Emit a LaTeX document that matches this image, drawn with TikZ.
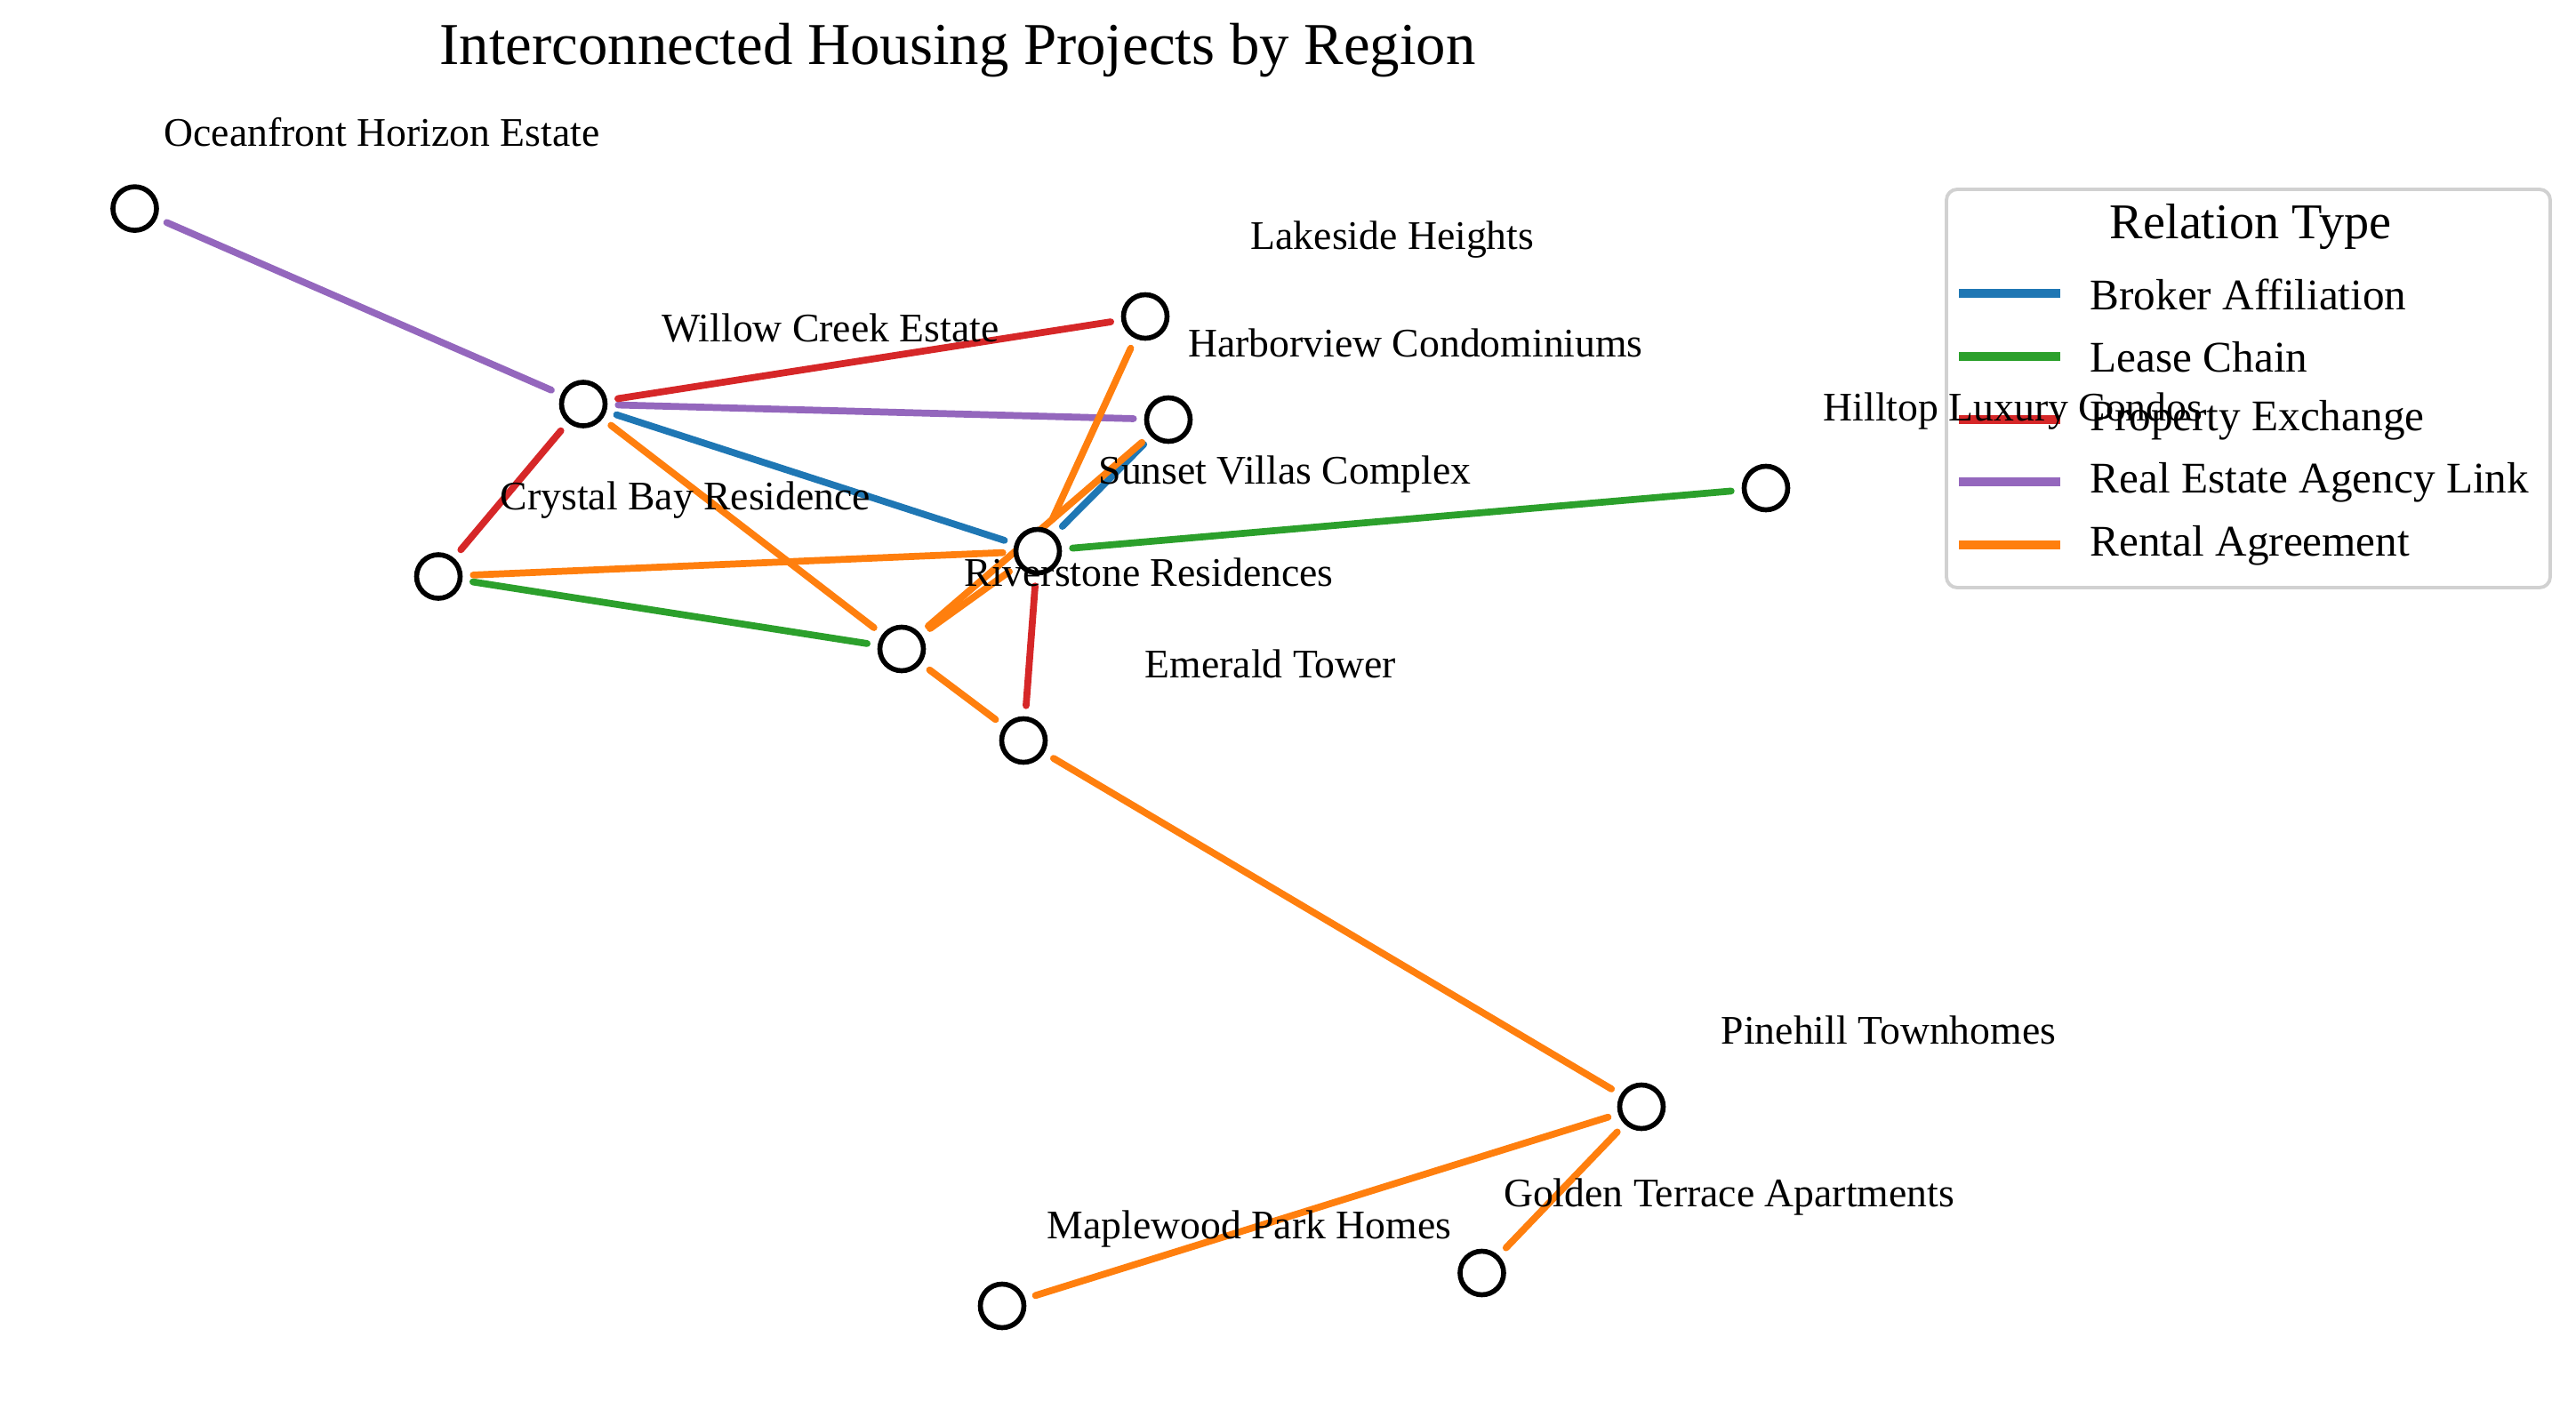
\documentclass[tikz,border=0pt]{standalone}
\usepackage{fontspec}
\setmainfont{Liberation Serif}
\usetikzlibrary{backgrounds}

\definecolor{tabblue}{HTML}{1F77B4}
\definecolor{taborange}{HTML}{FF7F0E}
\definecolor{tabgreen}{HTML}{2CA02C}
\definecolor{tabred}{HTML}{D62728}
\definecolor{tabpurple}{HTML}{9467BD}

\begin{document}
\begin{tikzpicture}
\tikzstyle{every node}+=[inner sep=0pt]
\tikzstyle{house}=[circle, draw=black, fill=white, line width=1.6pt, minimum size=0.49cm]
\tikzstyle{tag}=[font=\fontsize{13}{15}\selectfont]
\tikzstyle{link}=[line width=2.2pt, line cap=round, shorten <=0.12cm, shorten >=0.12cm]
\tikzstyle{broker}=[link, tabblue]
\tikzstyle{lease}=[link, tabgreen]
\tikzstyle{exchange}=[link, tabred]
\tikzstyle{agency}=[link, tabpurple]
\tikzstyle{rental}=[link, taborange]
\tikzstyle{swatch}=[line width=3pt]
\tikzstyle{keytext}=[anchor=west, font=\fontsize{14}{16}\selectfont]
\useasboundingbox (0,0) rectangle (28.97,-15.76);
\node [font=\fontsize{19}{22}\selectfont] (title) at (10.77,-0.57) {Interconnected Housing Projects by Region};
\node [house] (ocean) at (1.515,-2.346) {};
\node [house] (lake) at (12.88,-3.56) {};
\node [house] (harbor) at (13.14,-4.72) {};
\node [house] (willow) at (6.56,-4.545) {};
\node [house] (sunset) at (11.67,-6.20) {};
\node [house] (crystal) at (4.93,-6.485) {};
\node [house] (river) at (10.14,-7.30) {};
\node [house] (emerald) at (11.51,-8.33) {};
\node [house] (hill) at (19.86,-5.49) {};
\node [house] (pine) at (18.46,-12.45) {};
\node [house] (golden) at (16.665,-14.32) {};
\node [house] (maple) at (11.27,-14.69) {};
\begin{scope}[on background layer]
\draw [agency] (ocean) -- (willow);
\draw [agency] (willow) -- (harbor);
\draw [exchange] (willow) -- (lake);
\draw [exchange] (willow) -- (crystal);
\draw [exchange] (sunset) -- (emerald);
\draw [broker] (willow) -- (sunset);
\draw [broker] (harbor) -- (sunset);
\draw [lease] (crystal) -- (river);
\draw [lease] (sunset) -- (hill);
\draw [rental] (willow) -- (river);
\draw [rental] (crystal) -- (sunset);
\draw [rental] (lake) -- (sunset);
\draw [rental] (river) -- (harbor);
\draw [rental] (river) -- (sunset);
\draw [rental] (river) -- (emerald);
\draw [rental] (emerald) -- (pine);
\draw [rental] (pine) -- (maple);
\draw [rental] (pine) -- (golden);
\end{scope}
\draw [rounded corners=0.12cm, draw=black!18, line width=1.1pt, fill=white] (21.89,-2.13) rectangle (28.68,-6.61);
\node [font=\fontsize{16}{18}\selectfont] (key-title) at (25.31,-2.55) {Relation Type};
\draw [swatch, tabblue] (22.03,-3.30) -- (23.17,-3.30);
\node [keytext] (key-broker) at (23.50,-3.31) {Broker Affiliation};
\draw [swatch, tabgreen] (22.03,-4.01) -- (23.17,-4.01);
\node [keytext] (key-lease) at (23.50,-4.02) {Lease Chain};
\draw [swatch, tabred] (22.03,-4.72) -- (23.17,-4.72);
\node [keytext] (key-exchange) at (23.50,-4.73) {Property Exchange};
\draw [swatch, tabpurple] (22.03,-5.42) -- (23.17,-5.42);
\node [keytext] (key-agency) at (23.50,-5.43) {Real Estate Agency Link};
\draw [swatch, taborange] (22.03,-6.13) -- (23.17,-6.13);
\node [keytext] (key-rental) at (23.50,-6.14) {Rental Agreement};
\node [tag] (ocean-t) at ([shift={(2.78,0.86)}]ocean.center) {Oceanfront Horizon Estate};
\node [tag] (lake-t) at ([shift={(2.78,0.86)}]lake.center) {Lakeside Heights};
\node [tag] (harbor-t) at ([shift={(2.78,0.86)}]harbor.center) {Harborview Condominiums};
\node [tag] (willow-t) at ([shift={(2.78,0.86)}]willow.center) {Willow Creek Estate};
\node [tag] (sunset-t) at ([shift={(2.78,0.86)}]sunset.center) {Sunset Villas Complex};
\node [tag] (crystal-t) at ([shift={(2.78,0.86)}]crystal.center) {Crystal Bay Residence};
\node [tag] (river-t) at ([shift={(2.78,0.86)}]river.center) {Riverstone Residences};
\node [tag] (emerald-t) at ([shift={(2.78,0.86)}]emerald.center) {Emerald Tower};
\node [tag] (hill-t) at ([shift={(2.78,0.86)}]hill.center) {Hilltop Luxury Condos};
\node [tag] (pine-t) at ([shift={(2.78,0.86)}]pine.center) {Pinehill Townhomes};
\node [tag] (golden-t) at ([shift={(2.78,0.86)}]golden.center) {Golden Terrace Apartments};
\node [tag] (maple-t) at ([shift={(2.78,0.86)}]maple.center) {Maplewood Park Homes};
\end{tikzpicture}
\end{document}
